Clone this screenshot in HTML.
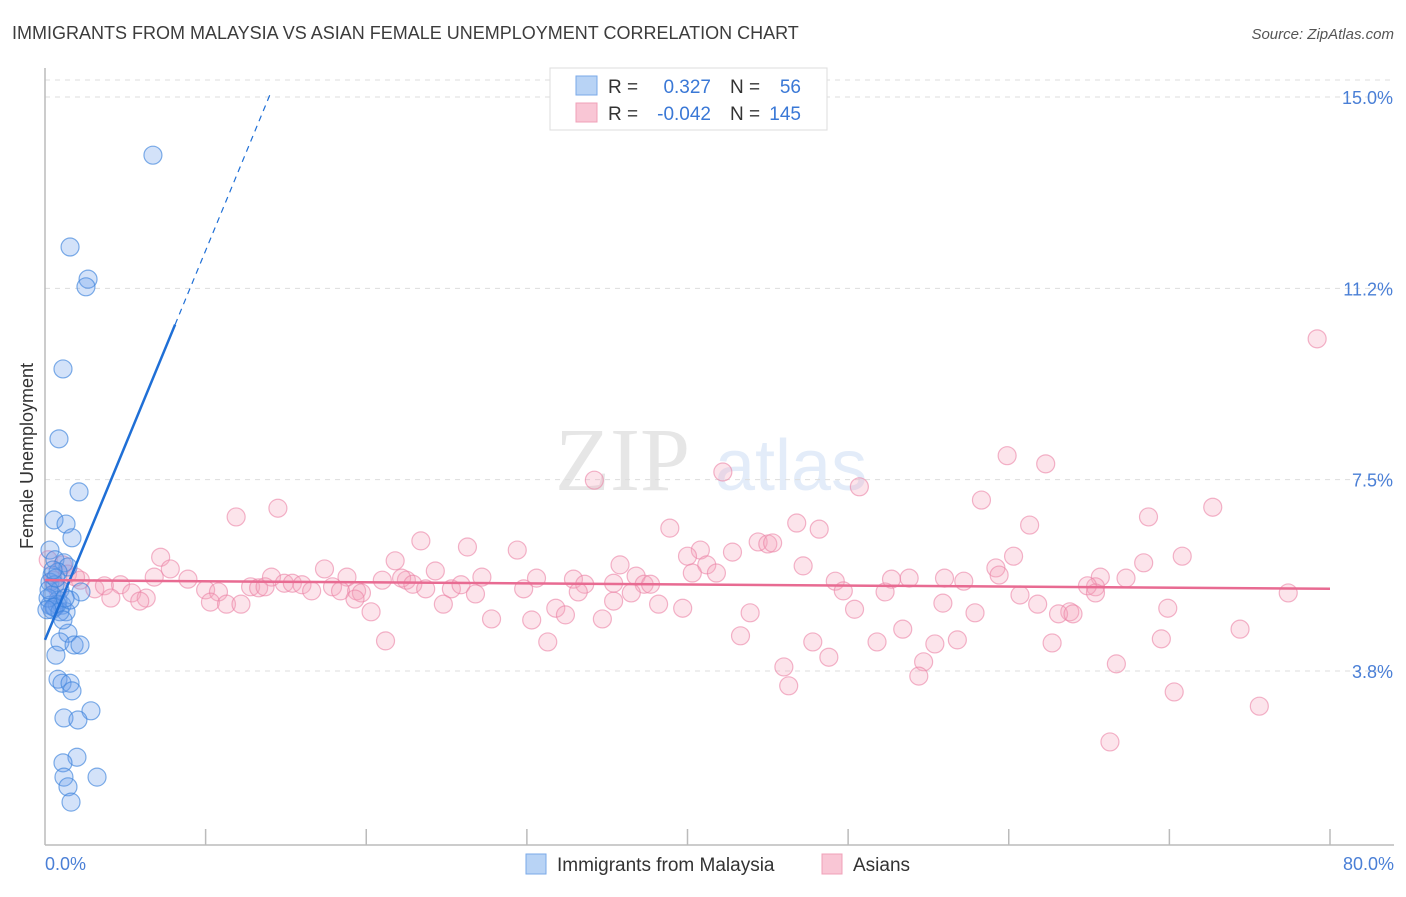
<!DOCTYPE html>
<html><head><meta charset="utf-8"><style>
body{margin:0;background:#fff;font-family:"Liberation Sans",sans-serif}
</style></head><body>
<svg id="chart" width="1406" height="892" xmlns="http://www.w3.org/2000/svg" font-family="Liberation Sans, sans-serif">
<text x="12" y="39" font-size="18" fill="#3c3c3c">IMMIGRANTS FROM MALAYSIA VS ASIAN FEMALE UNEMPLOYMENT CORRELATION CHART</text>
<text x="1394" y="39" font-size="15" fill="#555" text-anchor="end" font-style="italic">Source: ZipAtlas.com</text>
<g opacity="0.18">
<text x="555" y="490" font-size="90" font-family="Liberation Serif, serif" fill="#777">ZIP</text>
<text x="715" y="490" font-size="72" fill="#6a9be0">atlas</text>
</g>
<g id="grid"></g>
<line x1="45" y1="68" x2="45" y2="845" stroke="#bbb" stroke-width="1.5"/>
<line x1="45" y1="845" x2="1394" y2="845" stroke="#bbb" stroke-width="1.5"/>
<g id="xticks"></g>
<g id="pinkpts"></g>
<g id="bluepts"></g>
<g id="lines"></g>
<text transform="translate(33,456) rotate(-90)" font-size="18" fill="#333" text-anchor="middle">Female Unemployment</text>
<text x="45" y="870" font-size="18" fill="#4a7fd6">0.0%</text>
<text x="1394" y="870" font-size="18" fill="#4a7fd6" text-anchor="end">80.0%</text>
<g>
<rect x="550" y="68" width="277" height="62" fill="#fff" stroke="#ddd"/>
<rect x="576" y="76" width="21" height="19" fill="#b8d3f5" stroke="#7aaae8"/>
<rect x="576" y="103" width="21" height="19" fill="#f9c6d5" stroke="#f0a0b8"/>
<text x="608" y="93" font-size="19" fill="#333">R =</text>
<text x="711" y="93" font-size="19" fill="#3a78d6" text-anchor="end">0.327</text>
<text x="730" y="93" font-size="19" fill="#333">N =</text>
<text x="801" y="93" font-size="19" fill="#3a78d6" text-anchor="end">56</text>
<text x="608" y="120" font-size="19" fill="#333">R =</text>
<text x="711" y="120" font-size="19" fill="#3a78d6" text-anchor="end">-0.042</text>
<text x="730" y="120" font-size="19" fill="#333">N =</text>
<text x="801" y="120" font-size="19" fill="#3a78d6" text-anchor="end">145</text>
</g>
<g>
<rect x="526" y="854" width="20" height="20" fill="#b8d3f5" stroke="#7aaae8"/>
<text x="557" y="871" font-size="19" fill="#333">Immigrants from Malaysia</text>
<rect x="822" y="854" width="20" height="20" fill="#f9c6d5" stroke="#f0a0b8"/>
<text x="853" y="871" font-size="19" fill="#333">Asians</text>
</g>
</svg>
<script>
const yTicks=[3.75,7.5,11.25,15];
const yTickLabels=["3.8%","7.5%","11.2%","15.0%"];
const blueX=[6.72,1.56,2.68,2.55,1.12,0.87,2.12,0.56,1.31,1.68,0.31,0.62,1.18,1.43,0.44,0.81,0.31,0.62,0.93,0.44,0.81,0.31,0.62,1.06,1.31,0.44,0.75,2.24,0.19,1.43,0.93,1.81,2.18,0.68,0.81,1.06,1.56,1.68,2.86,1.18,2.05,1.99,1.12,1.18,3.24,1.43,1.62,0.56,0.93,0.25,1.12,0.68,0.12,1.56,0.5,1.25];
const blueY=[13.86,12.06,11.43,11.28,9.67,8.30,7.26,6.71,6.63,6.36,6.12,5.93,5.87,5.79,5.63,5.69,5.49,5.44,5.34,5.24,5.14,5.04,5.00,5.04,4.91,4.95,5.06,5.30,5.18,4.49,4.32,4.26,4.26,4.06,3.59,3.51,3.51,3.36,2.97,2.83,2.79,2.06,1.95,1.67,1.67,1.48,1.18,5.00,4.91,5.34,4.75,5.57,4.95,5.14,5.73,5.18];
const pinkX=[79.2,59.9,62.3,42.2,34.2,50.7,58.3,14.5,11.9,68.7,72.7,38.9,46.8,48.2,61.3,44.4,45.0,45.3,40.8,40.0,42.8,29.4,26.3,23.4,7.2,21.8,35.8,60.3,68.4,70.8,41.2,41.8,40.3,36.8,59.2,59.4,47.2,17.4,7.8,8.9,6.8,14.1,18.8,24.3,22.5,22.2,27.2,30.6,32.9,33.6,37.3,37.7,49.2,52.7,53.8,56.0,57.2,65.7,67.3,65.4,64.9,65.4,1.1,1.4,2.2,3.1,3.7,4.7,5.4,6.3,4.1,5.9,10.0,10.8,12.8,13.3,13.7,14.9,15.4,16.0,16.6,17.9,18.4,19.4,19.7,19.3,21.0,22.9,23.7,25.3,25.9,26.8,29.8,33.2,35.4,36.5,49.7,52.3,60.7,63.8,61.8,55.9,57.9,69.9,77.4,74.4,63.1,64.0,50.4,39.7,38.2,35.4,31.8,32.4,24.8,20.3,10.3,11.3,12.2,43.9,43.3,30.3,27.8,34.7,21.2,31.3,47.8,48.8,51.8,53.4,55.4,56.8,62.7,69.5,46.0,46.3,54.7,54.4,66.7,70.3,75.6,66.3,0.2,0.5,0.8,1.9];
const pinkY=[10.26,7.97,7.81,7.65,7.49,7.36,7.10,6.94,6.77,6.77,6.96,6.55,6.65,6.53,6.61,6.28,6.24,6.26,6.12,6.00,6.08,6.12,6.18,6.30,5.98,5.91,5.83,6.00,5.87,6.00,5.83,5.67,5.67,5.61,5.77,5.63,5.81,5.75,5.75,5.55,5.59,5.59,5.59,5.71,5.53,5.57,5.59,5.57,5.55,5.45,5.45,5.45,5.51,5.55,5.57,5.57,5.51,5.59,5.57,5.40,5.42,5.28,5.83,5.65,5.53,5.36,5.42,5.44,5.28,5.18,5.18,5.12,5.34,5.30,5.40,5.38,5.40,5.47,5.47,5.44,5.32,5.40,5.32,5.32,5.28,5.16,5.53,5.45,5.36,5.36,5.44,5.26,5.36,5.30,5.47,5.28,5.32,5.30,5.24,4.91,5.06,5.08,4.89,4.98,5.28,4.57,4.87,4.87,4.96,4.98,5.06,5.12,4.98,4.85,5.06,4.91,5.10,5.06,5.06,4.89,4.44,4.75,4.77,4.77,4.34,4.32,4.32,4.02,4.32,4.57,4.28,4.36,4.30,4.38,3.83,3.46,3.93,3.65,3.89,3.34,3.06,2.36,5.93,5.53,5.34,5.59];
const blueTrend=[4.36,0.763];
const pinkTrend=[5.53,-0.0021];
const NS="http://www.w3.org/2000/svg";
const xs=v=>45+v*(1285/80);
const ys=v=>97+(15-v)*(574/11.25);
function mk(tag,attrs,parent){const e=document.createElementNS(NS,tag);for(const k in attrs)e.setAttribute(k,attrs[k]);parent.appendChild(e);return e;}
const grid=document.getElementById('grid');
mk('line',{x1:45,y1:80,x2:1394,y2:80,stroke:'#ddd','stroke-dasharray':'5,5'},grid);
yTicks.forEach((t,i)=>{
 const l=mk('line',{x1:45,y1:ys(t),x2:1394,y2:ys(t),stroke:'#ddd','stroke-dasharray':'5,5'},grid);
 
 
 const tx=mk('text',{x:1393,y:ys(t)+7,'font-size':18,fill:'#4a7fd6','text-anchor':'end'},grid);
 tx.textContent=yTickLabels[i];
 
 
});
const xt=document.getElementById('xticks');
for(let v=10;v<=80;v+=10){
 const l=mk('line',{x1:xs(v),y1:829,x2:xs(v),y2:845,stroke:'#bbb','stroke-width':1.5},xt);
 
 
}
const pg=document.getElementById('pinkpts');
pinkX.forEach((x,i)=>{
 const c=mk('circle',{cx:xs(x),cy:ys(pinkY[i]),r:9,fill:'rgba(245,165,190,0.3)',stroke:'rgba(235,130,165,0.6)','stroke-width':1.2},pg);
 
 
});
const bg=document.getElementById('bluepts');
blueX.forEach((x,i)=>{
 const c=mk('circle',{cx:xs(x),cy:ys(blueY[i]),r:9,fill:'rgba(110,160,235,0.3)',stroke:'rgba(60,130,220,0.65)','stroke-width':1.2},bg);
 
 
});
const lg=document.getElementById('lines');
const bt=x=>blueTrend[0]+blueTrend[1]*x;
const l1=mk('line',{x1:xs(0),y1:ys(bt(0)),x2:xs(8.1),y2:ys(bt(8.1)),stroke:'#1f6fd6','stroke-width':2.5},lg);


const l2=mk('line',{x1:xs(8.1),y1:ys(bt(8.1)),x2:xs(14.1),y2:ys(bt(14.1)),stroke:'#1f6fd6','stroke-width':1.2,'stroke-dasharray':'6,5'},lg);


const pt=x=>pinkTrend[0]+pinkTrend[1]*x;
const l3=mk('line',{x1:xs(0),y1:ys(pt(0)),x2:xs(80),y2:ys(pt(80)),stroke:'#e86b92','stroke-width':2.5},lg);


</script>
</body></html>
